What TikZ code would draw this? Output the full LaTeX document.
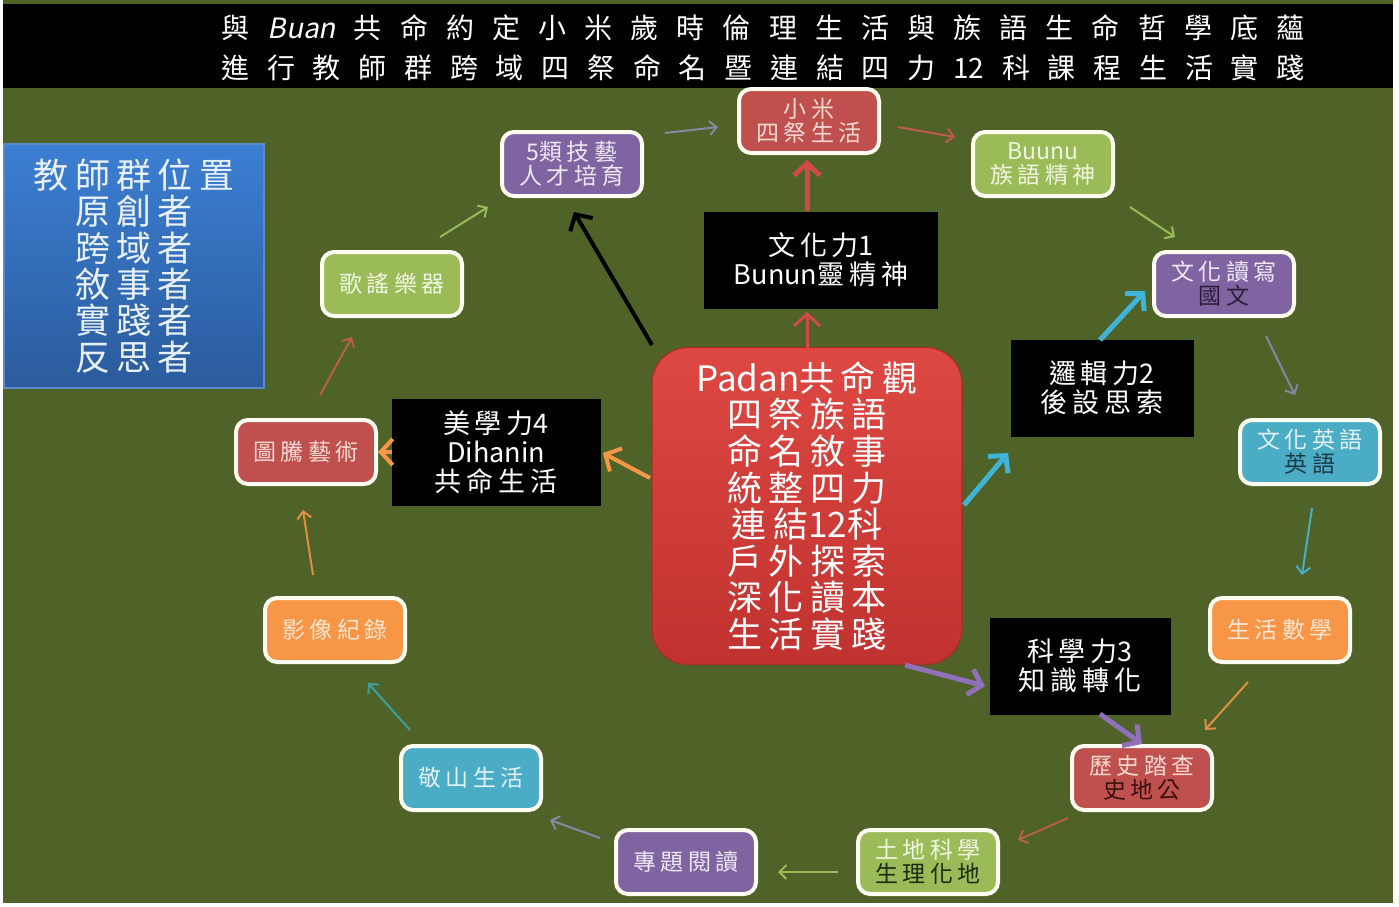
\documentclass[tikz,border=0pt]{standalone}
\usepackage{fontspec}
\setmainfont{Noto Sans CJK TC}
\newfontfamily\widefont{Noto Sans CJK TC}[LetterSpace=18]
\newcommand{\lat}[1]{{\rmfamily #1}}
\usetikzlibrary{arrows.meta,calc}
\definecolor{bg}{HTML}{4F6228}
\definecolor{cred}{HTML}{C0504D}
\definecolor{cpur}{HTML}{8064A2}
\definecolor{cgrn}{HTML}{9BBB59}
\definecolor{cblu}{HTML}{4BACC6}
\definecolor{corg}{HTML}{F79646}
\definecolor{boxedge}{HTML}{FFFDF2}
\definecolor{tRed}{HTML}{F8DAD4}
\definecolor{tPur}{HTML}{EEE8F6}
\definecolor{tGrn}{HTML}{F0F6E2}
\definecolor{tBlu}{HTML}{E2F2F8}
\definecolor{tOrg}{HTML}{FDE6D2}
\definecolor{dRed}{HTML}{3A1010}
\definecolor{dPur}{HTML}{2B1E3A}
\definecolor{dGrn}{HTML}{1E2A0E}
\definecolor{dBlu}{HTML}{1E3A44}
\definecolor{ctrA}{HTML}{DE4842}
\definecolor{ctrB}{HTML}{C03230}
\definecolor{ctrEdge}{HTML}{A82C2A}
\definecolor{bluA}{HTML}{3C7FD3}
\definecolor{bluB}{HTML}{2B5B9C}
\definecolor{bluEdge}{HTML}{5A8AC8}
\definecolor{bluText}{HTML}{E8F0FA}
\definecolor{aGray}{HTML}{8A86A8}
\definecolor{aRed}{HTML}{C05A4A}
\definecolor{aGrn}{HTML}{9BBB59}
\definecolor{aBlu}{HTML}{4BACC6}
\definecolor{aTeal}{HTML}{3AA0A0}
\definecolor{aOrg}{HTML}{E09040}
\definecolor{aBrn}{HTML}{B86040}
\definecolor{fRed}{HTML}{D04A48}
\definecolor{fOrg}{HTML}{F79646}
\definecolor{fBlu}{HTML}{40B4D6}
\definecolor{fPur}{HTML}{9070B8}
\tikzset{
  cbox/.style={draw=boxedge, line width=2pt, rounded corners=6pt, minimum width=70pt, minimum height=32pt, inner sep=1pt, align=center, font=\widefont\fontsize{11.5}{12}\selectfont},
  blk/.style={fill=black, text=white, align=center, inner sep=0pt, font=\widefont\fontsize{13.5}{14.5}\selectfont},
  cyc/.style={line width=1pt, -{Straight Barb[length=3.5pt,width=7pt]}},
  fat/.style={line width=2.5pt, -{Straight Barb[length=6pt,width=13pt]}},
  ttl/.style={text=white, font=\fontsize{14}{14}\selectfont, inner sep=0pt},
}
\begin{document}
\begin{tikzpicture}[x=0.5pt,y=-0.5pt]
\useasboundingbox (0,0) rectangle (1399,906);
\fill[white] (0,0) rectangle (1399,906);
\fill[bg] (3,0) rectangle (1393,903);
\fill[black] (3,4) rectangle (1393,88);
% title
\node[ttl] (t1) at (763,28) {\makebox[541.5pt][s]{與 {\addfontfeature{FakeSlant=0.2}Buan} 共 命 約 定 小 米 歲 時 倫 理 生 活 與 族 語 生 命 哲 學 底 蘊}};
\node[ttl] (t2) at (763,68) {\makebox[541.5pt][s]{進 行 教 師 群 跨 域 四 祭 命 名 暨 連 結 四 力 12 科 課 程 生 活 實 踐}};
% left box
\node[draw=bluEdge, line width=0.6pt, top color=bluA, bottom color=bluB, minimum width=130pt, minimum height=122pt, text=bluText, align=center, font=\widefont\fontsize{17.5}{18.2}\selectfont, inner sep=0pt] (tg) at (134,266) {教師群位置\\原創者\\跨域者\\敘事者\\實踐者\\反思者};
% ring boxes
\node[cbox, fill=cred, text=tRed] (xm) at (809,121) {小米\\四祭生活};
\node[cbox, fill=cpur, text=tPur] (n5) at (572,164) {\lat{5}類技藝\\人才培育};
\node[cbox, fill=cgrn, text=tGrn] (bu) at (1043,164) {\lat{Buunu}\\族語精神};
\node[cbox, fill=cpur, text=tPur] (dx) at (1224,284) {文化讀寫\\\textcolor{dPur}{國文}};
\node[cbox, fill=cblu, text=tBlu] (en) at (1310,452) {文化英語\\\textcolor{dBlu}{英語}};
\node[cbox, fill=corg, text=tOrg] (ma) at (1280,630) {生活數學};
\node[cbox, fill=cred, text=tRed] (hi) at (1142,778) {歷史踏查\\\textcolor{dRed}{史地公}};
\node[cbox, fill=cgrn, text=tGrn] (td) at (928,862) {土地科學\\\textcolor{dGrn}{生理化地}};
\node[cbox, fill=cpur, text=tPur] (zt) at (686,862) {專題閱讀};
\node[cbox, fill=cblu, text=tBlu] (js) at (471,778) {敬山生活};
\node[cbox, fill=corg, text=tOrg] (yx) at (335,630) {影像紀錄};
\node[cbox, fill=cred, text=tRed] (tt) at (306,452) {圖騰藝術};
\node[cbox, fill=cgrn, text=tGrn] (gy) at (392,284) {歌謠樂器};
% black boxes
\node[blk, minimum width=117pt, minimum height=48.5pt] (wh1) at (821,260) {文化力\lat{1}\\\lat{Bunun}靈精神};
\node[blk, minimum width=91.5pt, minimum height=48.5pt] (lg2) at (1102,388) {邏輯力\lat{2}\\後設思索};
\node[blk, minimum width=90.5pt, minimum height=48.5pt] (sc3) at (1080,666) {科學力\lat{3}\\知識轉化};
\node[blk, minimum width=104.5pt, minimum height=53.5pt] (ae4) at (496,452) {美學力\lat{4}\\\lat{Dihanin}\\共命生活};
% centre
\node[draw=ctrEdge, line width=0.6pt, rounded corners=18pt, top color=ctrA, bottom color=ctrB, minimum width=155pt, minimum height=158.5pt, text=white, align=center, font=\widefont\fontsize{17.5}{18.3}\selectfont, inner sep=0pt] (ctr) at (807,506) {\lat{Padan}共命觀\\四祭族語\\命名敘事\\統整四力\\連結\lat{12}科\\戶外探索\\深化讀本\\生活實踐};
% cycle arrows
\draw[cyc, aGray] ([shift={(93,-31)}]n5.center) -- ([shift={(-91,6)}]xm.center);
\draw[cyc, aRed]  ([shift={(89,6)}]xm.center) -- ([shift={(-88,-27)}]bu.center);
\draw[cyc, aGrn]  ([shift={(87,43)}]bu.center) -- ([shift={(-49,-47)}]dx.center);
\draw[cyc, aGray] ([shift={(42,52)}]dx.center) -- ([shift={(-15,-57)}]en.center);
\draw[cyc, aBlu]  ([shift={(2,56)}]en.center) -- ([shift={(22,-55)}]ma.center);
\draw[cyc, aOrg]  ([shift={(-32,52)}]ma.center) -- ([shift={(63,-48)}]hi.center);
\draw[cyc, aBrn]  ([shift={(-74,40)}]hi.center) -- ([shift={(90,-22)}]td.center);
\draw[cyc, aGrn]  ([shift={(-90,10)}]td.center) -- ([shift={(92,10)}]zt.center);
\draw[cyc, aGray] ([shift={(-86,-24)}]zt.center) -- ([shift={(79,42)}]js.center);
\draw[cyc, aTeal] ([shift={(-61,-48)}]js.center) -- ([shift={(33,53)}]yx.center);
\draw[cyc, aOrg]  ([shift={(-22,-55)}]yx.center) -- ([shift={(-3,58)}]tt.center);
\draw[cyc, aBrn]  ([shift={(14,-57)}]tt.center) -- ([shift={(-40,53)}]gy.center);
\draw[cyc, aGrn]  ([shift={(48,-47)}]gy.center) -- ([shift={(-84,43)}]n5.center);
% thick arrows
\draw[fat, fRed, line width=1.5pt] ([shift={(0,-158)}]ctr.center) -- ([shift={(-14,52)}]wh1.center);
\draw[fat, fRed] ([shift={(-14,-49)}]wh1.center) -- ([shift={(-2,39)}]xm.center);
\draw[fat, black, line width=2pt] ([shift={(-155,-161)}]ctr.center) -- ([shift={(2,48)}]n5.center);
\draw[fat, fOrg, line width=2pt] ([shift={(-157,-28)}]ctr.center) -- ([shift={(107,1)}]ae4.center);
\draw[fat, fOrg, line width=2pt] ([shift={(-104,0)}]ae4.center) -- ([shift={(72,0)}]tt.center);
\draw[fat, fBlu] ([shift={(157,-1)}]ctr.center) -- ([shift={(-94,65)}]lg2.center);
\draw[fat, fBlu] ([shift={(-2,-48)}]lg2.center) -- ([shift={(-79,7)}]dx.center);
\draw[fat, fPur] ([shift={(98,159)}]ctr.center) -- ([shift={(-95,20)}]sc3.center);
\draw[fat, fPur] ([shift={(20,48)}]sc3.center) -- ([shift={(0,-34)}]hi.center);
\end{tikzpicture}
\end{document}
